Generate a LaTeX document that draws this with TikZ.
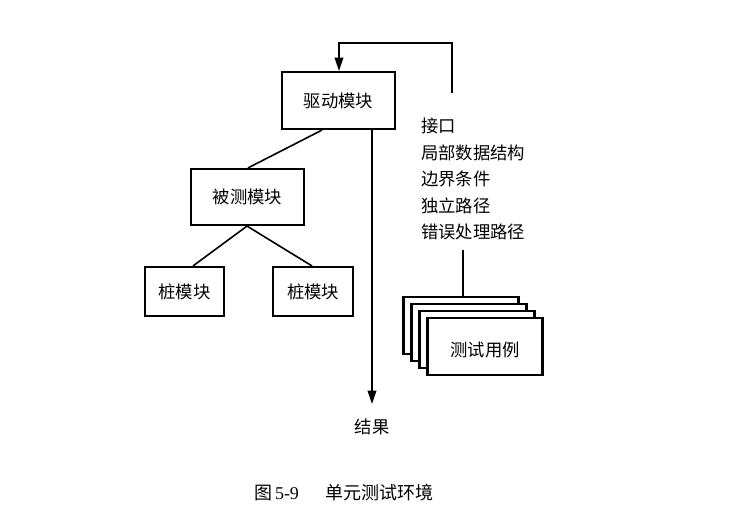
\documentclass[tikz,border=0pt]{standalone}
\usepackage{fontspec}
\newfontfamily\cjk{Noto Sans CJK SC}
\newfontfamily\ser{Liberation Serif}
\usetikzlibrary{arrows.meta}
\begin{document}
\begin{tikzpicture}[x=0.75pt,y=-0.75pt,
  modbox/.style={draw,line width=1.6pt,inner sep=0pt,font=\cjk\fontsize{13}{15}\selectfont},
  link/.style={line width=1.2pt},
  arr/.style={line width=1.2pt,-{Triangle[length=10pt,width=6.5pt]}},
  txt/.style={font=\cjk\fontsize{13}{15}\selectfont,inner sep=0pt,anchor=west}]
\useasboundingbox (0,0) rectangle (750,529);
\fill[white] (0,0) rectangle (750,529);
% boxes
\node[modbox,minimum width=84.75pt,minimum height=42.75pt] (drv) at (338.5,100.5) {驱动模块};
\node[modbox,minimum width=84.75pt,minimum height=42pt] (ut) at (247.5,197) {被测模块};
\node[modbox,minimum width=59.25pt,minimum height=36.75pt] (s1) at (184.5,291.5) {桩模块};
\node[modbox,minimum width=60pt,minimum height=36.75pt] (s2) at (313,291.5) {桩模块};
% feedback
\coordinate (fb0) at (452,93);
\coordinate (fb1) at (452,43);
\coordinate (fb2) at (339,43);
\draw[arr] (fb0) -- (fb1) -- (fb2) -- (drv.north -| fb2);
% tree lines
\draw[link] (drv.south -| 322,0) -- (ut.north -| 248,0);
\draw[link] (ut.south -| 247,0) -- (s1.north -| 193,0);
\draw[link] (ut.south -| 247,0) -- (s2.north -| 312,0);
% result
\node[font=\cjk\fontsize{13}{15}\selectfont,inner sep=0pt] (res) at (372,427) {结果};
\coordinate (rs) at (372,129);
\coordinate (re) at (372,404);
\draw[arr] (rs) -- (re);
% text list
\node[txt] (t1) at (421,126) {接口};
\node[txt] (t2) at (421,153) {局部数据结构};
\node[txt] (t3) at (421,179) {边界条件};
\node[txt] (t4) at (421,206) {独立路径};
\node[txt] (t5) at (421,232) {错误处理路径};
% stack
\foreach \i/\dx in {1/0,2/8,3/16,4/24}{
  \node[draw,fill=white,line width=1.6pt,minimum width=86.25pt,minimum height=42.75pt,inner sep=0pt] (c\i) at (461+\dx,325.5+\dx*0.875) {};
}
\node[font=\cjk\fontsize{13}{15}\selectfont,inner sep=0pt] (tc) at ([yshift=-2.5pt]c4.center) {测试用例};
\coordinate (lt) at (463,250);
\draw[link] (lt) -- (c1.north -| lt);
% caption
\node[inner sep=0pt,font=\fontsize{13.5}{15}\selectfont] (cap) at (344,493) {{\cjk 图}\,{\ser 5-9}\hspace{1.5em}{\cjk 单元测试环境}};
\end{tikzpicture}
\end{document}
